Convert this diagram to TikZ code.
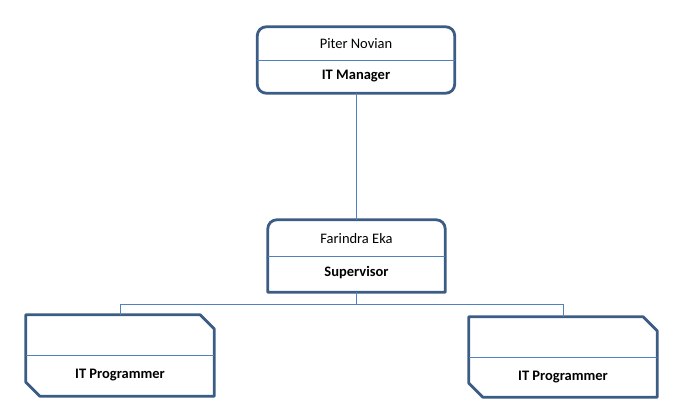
\documentclass[tikz,border=0pt]{standalone}
\usepackage{fontspec}
\setmainfont{Carlito}
\usepackage{tikz}
\usetikzlibrary{positioning}
\definecolor{boxline}{HTML}{3B5C85}
\definecolor{thinline}{HTML}{4F81BD}
\tikzstyle{holder} = [rectangle, draw=none, inner sep=0pt]
\tikzstyle{border} = [draw=boxline, line width=2.8pt, line join=round]
\tikzstyle{divider} = [draw=thinline, line width=0.8pt]
\tikzstyle{line} = [draw=thinline, line width=0.9pt]
\tikzstyle{label} = [inner sep=1pt, font=\fontsize{14.5}{16}\selectfont]

\begin{document}
\begin{tikzpicture}[x=1pt, y=-1pt]
\useasboundingbox (0,0) rectangle (693,409);

% Place nodes
\node [holder, minimum width=197pt, minimum height=66pt] (manager) at (356,60) {};
\node [holder, minimum width=177pt, minimum height=72pt] (super) at (356.5,256) {};
\node [holder, minimum width=188pt, minimum height=81pt] (prog1) at (120,355.5) {};
\node [holder, minimum width=188pt, minimum height=80pt] (prog2) at (563,357) {};
% Draw outlines
\draw [border, rounded corners=9pt] (manager.south west) rectangle (manager.north east);
\draw [border] (super.south west) -- ([yshift=-9pt]super.north west)
  arc[start angle=180, end angle=90, radius=9pt] -- ([xshift=-9pt]super.north east)
  arc[start angle=90, end angle=0, radius=9pt] -- (super.south east) -- cycle;
\draw [border] (prog1.north west) -- ([xshift=-14pt]prog1.north east) -- ([yshift=-14pt]prog1.north east)
  -- (prog1.south east) -- ([xshift=14pt]prog1.south west) -- ([yshift=14pt]prog1.south west) -- cycle;
\draw [border] (prog2.north west) -- ([xshift=-14pt]prog2.north east) -- ([yshift=-14pt]prog2.north east)
  -- (prog2.south east) -- ([xshift=14pt]prog2.south west) -- ([yshift=14pt]prog2.south west) -- cycle;
\path [divider] (manager.west) -- (manager.east);
\path [divider] (super.west) -- (super.east);
\path [divider] (prog1.west) -- (prog1.east);
\path [divider] (prog2.west) -- (prog2.east);
% Texts
\node [label] (managername) at ([yshift=16pt]manager.center) {Piter Novian};
\node [label] (managerrole) at ([yshift=-16pt]manager.center) {\bfseries IT Manager};
\node [label] (supername) at ([yshift=17pt]super.center) {Farindra Eka};
\node [label] (superrole) at ([yshift=-17pt]super.center) {\bfseries Supervisor};
\node [label] (prog1role) at ([yshift=-20pt]prog1.center) {\bfseries IT Programmer};
\node [label] (prog2role) at ([yshift=-20pt]prog2.center) {\bfseries IT Programmer};
% Draw edges
\path [line] (manager.south) -- (manager.south |- super.north);
\path [line] (super.south) -- ++(0,12) coordinate (bus);
\path [line] (bus) -| (prog1.north);
\path [line] (bus) -| (prog2.north);
\end{tikzpicture}
\end{document}
